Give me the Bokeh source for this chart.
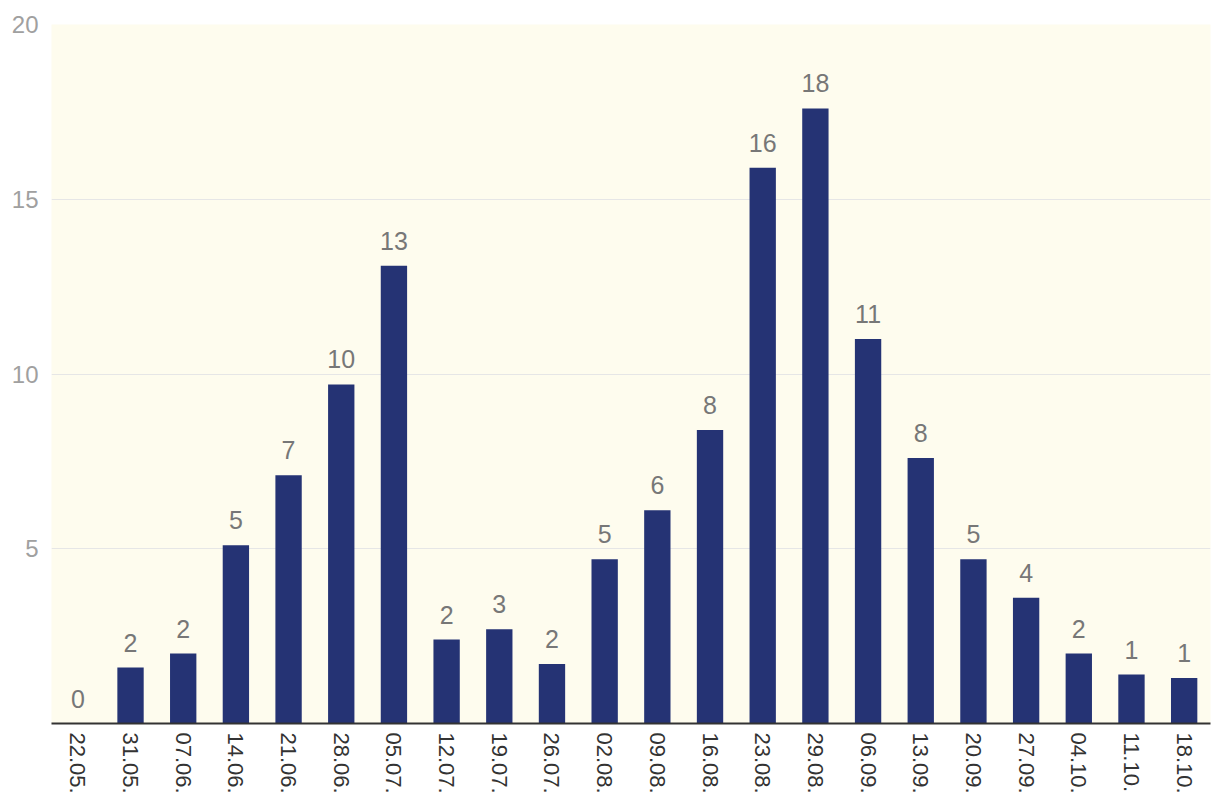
from bokeh.plotting import figure
from bokeh.models import ColumnDataSource, FactorRange, Range1d, FixedTicker
from bokeh.embed import file_html
from bokeh.resources import INLINE
from bokeh.core.properties import value

dates = ["22.05.", "31.05.", "07.06.", "14.06.", "21.06.", "28.06.", "05.07.",
         "12.07.", "19.07.", "26.07.", "02.08.", "09.08.", "16.08.", "23.08.",
         "29.08.", "06.09.", "13.09.", "20.09.", "27.09.", "04.10.", "11.10.", "18.10."]
values = [0.0, 1.6, 2.0, 5.1, 7.1, 9.7, 13.1,
          2.4, 2.7, 1.7, 4.7, 6.1, 8.4, 15.9,
          17.6, 11.0, 7.6, 4.7, 3.6, 2.0, 1.4, 1.3]
labels = [str(int(round(v))) for v in values]
y_ticks = [5, 10, 15, 20]

src = ColumnDataSource(dict(x=dates, y=values, lab=labels))

FONT = "Liberation Sans"

p = figure(x_range=FactorRange(*dates, range_padding=0), y_range=Range1d(0, 20),
           width=1212, height=800, output_backend="svg", toolbar_location=None,
           min_border_left=51, min_border_right=2, min_border_top=24, min_border_bottom=77)

p.background_fill_color = "#fefcee"
p.border_fill_color = "white"
p.outline_line_color = None

p.vbar(x="x", top="y", width=0.5, source=src, color="#253374", line_color=None)

p.text(x="x", y="y", text="lab", source=src, text_align="center",
       text_baseline="alphabetic", y_offset=-25,
       text_font=value(FONT), text_font_size="25px", text_color="#777777")

p.xgrid.grid_line_color = None
p.ygrid.grid_line_color = "#e6e6e6"
p.ygrid.grid_line_width = 1
p.yaxis.ticker = FixedTicker(ticks=y_ticks)

p.yaxis.axis_line_color = None
p.yaxis.major_tick_line_color = None
p.yaxis.minor_tick_line_color = None
p.yaxis.major_tick_out = 0
p.yaxis.major_tick_in = 0
p.yaxis.major_label_text_font = FONT
p.yaxis.major_label_text_font_size = "24px"
p.yaxis.major_label_text_color = "#a0a0a0"
p.yaxis.major_label_standoff = 13

p.xaxis.axis_line_color = "#333333"
p.xaxis.axis_line_width = 2
p.xaxis.major_tick_line_color = None
p.xaxis.minor_tick_line_color = None
p.xaxis.major_tick_out = 0
p.xaxis.major_tick_in = 0
p.xaxis.major_label_orientation = "vertical"
p.xaxis.major_label_text_font = FONT
p.xaxis.major_label_text_font_size = "22px"
p.xaxis.major_label_text_color = "#333333"
p.xaxis.major_label_standoff = 9

open("out.html", "w").write(file_html(p, INLINE))
